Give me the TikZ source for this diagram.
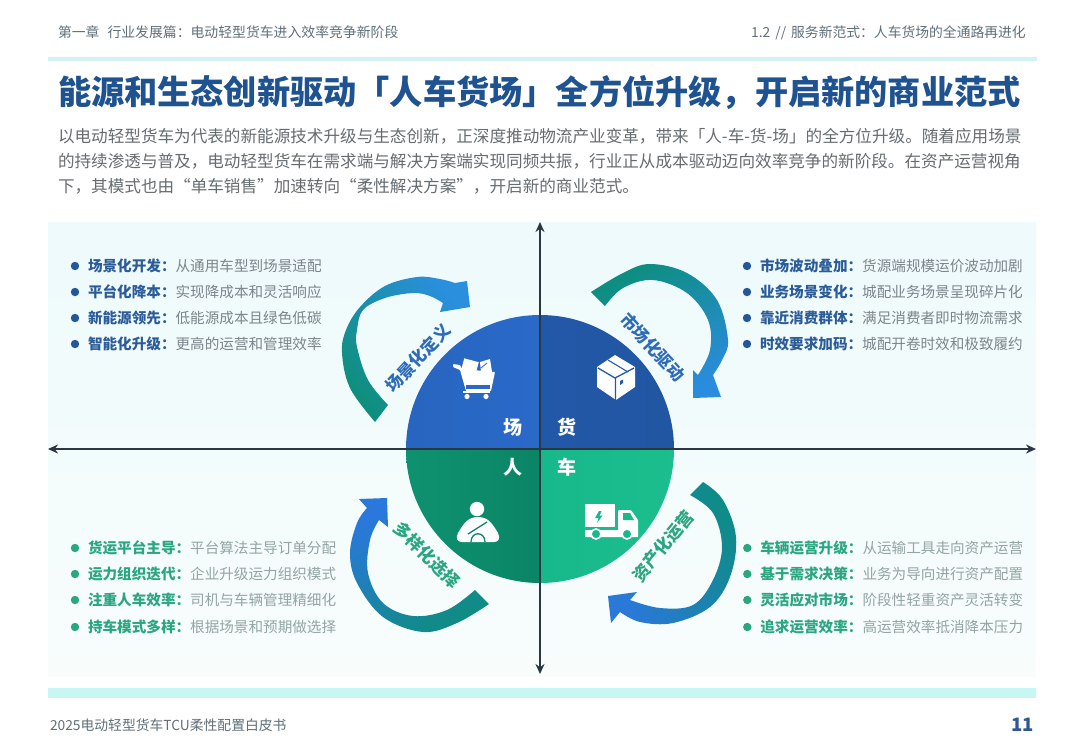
\documentclass[tikz,border=0pt]{standalone}
\usepackage{fontspec}
\setmainfont{Noto Sans CJK SC}
\usetikzlibrary{arrows.meta}
\definecolor{hdr}{HTML}{5F7078}
\definecolor{titleblue}{HTML}{1F5290}
\definecolor{bodygray}{HTML}{666C70}
\definecolor{topblue}{HTML}{2C5C98}
\definecolor{dotblue}{HTML}{24579A}
\definecolor{topdesc}{HTML}{7C858A}
\definecolor{green1}{HTML}{2AA680}
\definecolor{botdesc}{HTML}{94A4A4}
\definecolor{band}{HTML}{C8F6F2}
\definecolor{rule1}{HTML}{D2F2F3}
\definecolor{axis1}{HTML}{2A3742}
\definecolor{qTLa}{HTML}{2765BF}
\definecolor{qTL}{HTML}{2A69C8}
\definecolor{qTR}{HTML}{2258A8}
\definecolor{qTRb}{HTML}{2156A2}
\definecolor{qBLa}{HTML}{0F9270}
\definecolor{qBL}{HTML}{0A8566}
\definecolor{qBR}{HTML}{17B98B}
\definecolor{qBRb}{HTML}{1CBE8E}
\tikzset{
  txt/.style={inner sep=0pt,outer sep=0pt,anchor=base west},
  axisline/.style={draw=axis1,line width=1.7pt,{Stealth[length=10pt,width=9pt]}-{Stealth[length=10pt,width=9pt]}},
  sizeb/.style={font=\fontsize{14.6}{16}\selectfont},
  lbl/.style={inner sep=0pt,font=\fontsize{17}{18}\selectfont\bfseries},
  center char/.style={inner sep=0pt,text=white,font=\fontsize{19}{20}\selectfont\bfseries},
}
\newcommand{\listrow}[7]{%
  \fill[#4] (#1,#2) circle[radius=4.2];
  \node[txt,sizeb,text=#5] at (#1+13,#2+5.5) {\textbf{#6：}\textcolor{#7}{#3}};
}
\begin{document}
\begin{tikzpicture}[x=1pt,y=-1pt]
\useasboundingbox (0,0) rectangle (1080,748);
\fill[white] (0,0) rectangle (1080,748);
% header
\node[txt,text=hdr,font=\fontsize{13.85}{15}\selectfont] (h1) at (58,37) {第一章\hspace{8pt}行业发展篇：电动轻型货车进入效率竞争新阶段};
\node[inner sep=0pt,anchor=base east,text=hdr,font=\fontsize{13.8}{15}\selectfont] (h2) at (1026,37) {1.2\hspace{5pt}//\hspace{5pt}服务新范式：人车货场的全通路再进化};
\fill[rule1] (48,57) rectangle (1037,61);
\node[txt,text=titleblue,font=\fontsize{33.2}{36}\selectfont\bfseries] (title) at (58,104) {能源和生态创新驱动「人车货场」全方位升级，开启新的商业范式};
\node[txt,text=bodygray,font=\fontsize{16.6}{18}\selectfont] (b1) at (58,142) {以电动轻型货车为代表的新能源技术升级与生态创新，正深度推动物流产业变革，带来「人-车-货-场」的全方位升级。随着应用场景};
\node[txt,text=bodygray,font=\fontsize{16.6}{18}\selectfont] (b2) at (58,167) {的持续渗透与普及，电动轻型货车在需求端与解决方案端实现同频共振，行业正从成本驱动迈向效率竞争的新阶段。在资产运营视角};
\node[txt,text=bodygray,font=\fontsize{16.6}{18}\selectfont] (b3) at (58,192) {下，其模式也由“单车销售”加速转向“柔性解决方案”，开启新的商业范式。};
% panel
\fill[top color={rgb,255:red,238;green,250;blue,252},bottom color={rgb,255:red,248;green,253;blue,252}] (48,222) rectangle (1036,676);
\fill[band] (48,688) rectangle (1036,698);
% quadrants
\begin{scope}
\clip (540,449) circle[radius=134];
\shade[left color=qTLa,right color=qTL] (400,310) rectangle (540,449);
\shade[left color=qTR,right color=qTRb] (540,310) rectangle (680,449);
\shade[left color=qBLa,right color=qBL] (400,449) rectangle (540,590);
\shade[left color=qBR,right color=qBRb] (540,449) rectangle (680,590);
\end{scope}
% curved arrows
\path[left color={rgb,255:red,14;green,143;blue,124},middle color={rgb,255:red,25;green,169;blue,181},right color={rgb,255:red,42;green,143;blue,220},shading angle=130]
  plot[smooth,tension=.6] coordinates {(375,422) (350,388) (342,353) (346,330) (360,307) (385,286) (417,277) (440,279) (455,283)}
  -- (467,281) -- (470,307) -- (440,312) -- (443,303)
  -- plot[smooth,tension=.6] coordinates {(443,303) (430,296) (413,293) (385,298) (363,310) (357,330) (357,347) (368,380) (388,405)} -- cycle;
\path[left color={rgb,255:red,13;green,142;blue,128},middle color={rgb,255:red,26;green,166;blue,184},right color={rgb,255:red,42;green,140;blue,220},shading angle=30]
  plot[smooth,tension=.6] coordinates {(591,292) (623,273) (650,264) (687,273) (717,300) (728,340) (722,360) (713,375)}
  -- (721,397) -- (693,398) -- (693,370) -- (698,375)
  -- plot[smooth,tension=.6] coordinates {(698,375) (710,350) (708,320) (687,293) (653,280) (623,288) (605,306)} -- cycle;
\path[left color={rgb,255:red,15;green,140;blue,130},middle color={rgb,255:red,29;green,165;blue,200},right color={rgb,255:red,42;green,120;blue,220},shading angle=210]
  plot[smooth,tension=.6] coordinates {(489,604) (457,623) (423,632) (383,617) (357,583) (350,553) (357,523) (367,508)}
  -- (359,499) -- (387,498) -- (388,527) -- (379,520)
  -- plot[smooth,tension=.6] coordinates {(379,520) (370,540) (368,573) (383,603) (413,616) (447,610) (475,590)} -- cycle;
\path[left color={rgb,255:red,14;green,140;blue,135},middle color={rgb,255:red,26;green,168;blue,190},right color={rgb,255:red,42;green,120;blue,216},shading angle=300]
  plot[smooth,tension=.6] coordinates {(703,482) (723,500) (736,537) (730,577) (710,607) (673,623) (640,622) (620,612)}
  -- (611,623) -- (608,596) -- (637,592) -- (630,600)
  -- plot[smooth,tension=.6] coordinates {(630,600) (660,608) (693,605) (713,580) (722,547) (713,513) (690,495)} -- cycle;
% curved arrow labels
\node[lbl,text={rgb,255:red,46;green,107;blue,184},rotate=47] (l1) at (418,358) {场景化定义};
\node[lbl,text={rgb,255:red,46;green,107;blue,184},rotate=-47] (l2) at (653,347) {市场化驱动};
\node[lbl,text=green1,rotate=-45] (l3) at (427,555) {多样化选择};
\node[lbl,text=green1,rotate=51] (l4) at (663,546) {资产化运营};
% axes
\coordinate (axL) at (48,449);
\coordinate (axR) at (1036,449);
\coordinate (axT) at (540,222);
\coordinate (axB) at (540,674);
\draw[axisline] (axL) -- (axR);
\draw[axisline] (axT) -- (axB);
% center characters
\node[center char] (c1) at (513,427) {场};
\node[center char] (c2) at (567,427) {货};
\node[center char] (c3) at (513,467) {人};
\node[center char] (c4) at (567,467) {车};
% cart icon
\fill[white,rounded corners=.8] (453,364) -- (460,365) -- (462,369) -- (495,372) -- (491,391) -- (466,391) -- (460,370) -- (453,367) -- cycle;
\fill[qTL] (466,385) rectangle (490,389);
\fill[white] (463,391) rectangle (490,393);
\fill[white] (467,396.5) circle[radius=2.6] (486,396.5) circle[radius=2.6];
\fill[white,rotate around={-15:(470,364)}] (463,360) rectangle (478,371);
\fill[white] (480,362) -- (490,359) -- (492,372) -- (481,372) -- cycle;
\draw[qTL,line width=.8pt] (481,368) -- (487,363);
% box icon
\fill[white] (615,355) -- (635,367) -- (635,387) -- (616,400) -- (597,387) -- (597,367) -- cycle;
\draw[qTR,line width=1.3pt] (598,368) -- (615,378) -- (634,368) (615.5,378) -- (615.5,400);
\draw[qTR,line width=1.1pt] (608,360) -- (628,372);
\fill[qTR] (620,381) -- (623,379.5) -- (623,383) -- (620,385) -- cycle;
% person icon
\fill[white] (477,509) circle[radius=7.2];
\fill[white] (478,517) .. controls (468,517) and (464,523) .. (458,533) .. controls (455,539) and (458,542) .. (462,542) -- (494,542) .. controls (498,542) and (501,539) .. (498,533) .. controls (492,523) and (488,517) .. (478,517) -- cycle;
\draw[qBL,line width=1.3pt] (468,534) -- (487,522);
\draw[qBL,line width=1.3pt] (471,542) .. controls (471,531) and (485,531) .. (485,542);
% truck icon
\fill[white] (585,504) rectangle (615,527);
\fill[white,rounded corners=1] (618,510) -- (631,510) -- (638,520) -- (638,534) -- (618,534) -- cycle;
\fill[qBR] (623,513) -- (630,513) -- (634,520) -- (623,520) -- cycle;
\fill[white] (585,530) rectangle (592,537) (600,530) rectangle (622,537) (632,532) rectangle (638,537);
\fill[qBR] (599,511) -- (595,518) -- (598.5,518) -- (597,523) -- (602.5,515.5) -- (599.5,515.5) -- (601.5,511) -- cycle;
\draw[white,fill=qBR,line width=1.6pt] (596,534) circle[radius=5] (627,534) circle[radius=5];
% list blocks
\listrow{75}{266}{从通用车型到场景适配}{dotblue}{topblue}{场景化开发}{topdesc}
\listrow{75}{292}{实现降成本和灵活响应}{dotblue}{topblue}{平台化降本}{topdesc}
\listrow{75}{318}{低能源成本且绿色低碳}{dotblue}{topblue}{新能源领先}{topdesc}
\listrow{75}{344}{更高的运营和管理效率}{dotblue}{topblue}{智能化升级}{topdesc}
\listrow{747}{266}{货源端规模运价波动加剧}{dotblue}{topblue}{市场波动叠加}{topdesc}
\listrow{747}{292}{城配业务场景呈现碎片化}{dotblue}{topblue}{业务场景变化}{topdesc}
\listrow{747}{318}{满足消费者即时物流需求}{dotblue}{topblue}{靠近消费群体}{topdesc}
\listrow{747}{344}{城配开卷时效和极致履约}{dotblue}{topblue}{时效要求加码}{topdesc}
\listrow{75}{548}{平台算法主导订单分配}{green1}{green1}{货运平台主导}{botdesc}
\listrow{75}{574}{企业升级运力组织模式}{green1}{green1}{运力组织迭代}{botdesc}
\listrow{75}{600}{司机与车辆管理精细化}{green1}{green1}{注重人车效率}{botdesc}
\listrow{75}{627}{根据场景和预期做选择}{green1}{green1}{持车模式多样}{botdesc}
\listrow{747.3}{548}{从运输工具走向资产运营}{green1}{green1}{车辆运营升级}{botdesc}
\listrow{747.3}{574}{业务为导向进行资产配置}{green1}{green1}{基于需求决策}{botdesc}
\listrow{747.3}{600}{阶段性轻重资产灵活转变}{green1}{green1}{灵活应对市场}{botdesc}
\listrow{747.3}{627}{高运营效率抵消降本压力}{green1}{green1}{追求运营效率}{botdesc}
% footer
\node[txt,text=hdr,font=\fontsize{13.8}{15}\selectfont] (f1) at (50,730) {2025电动轻型货车TCU柔性配置白皮书};
\node[inner sep=0pt,anchor=base east,text={rgb,255:red,47;green,88;blue,150},font=\fontsize{18.5}{20}\selectfont\bfseries] (f2) at (1034,731) {11};
\end{tikzpicture}
\end{document}
